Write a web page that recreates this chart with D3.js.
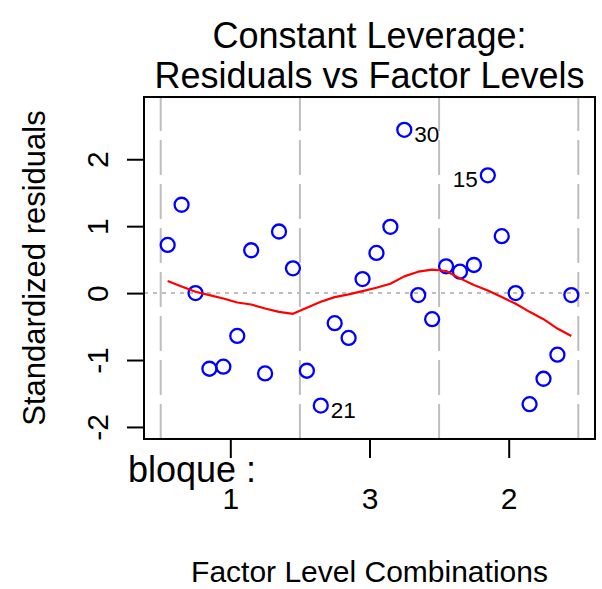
<!DOCTYPE html>
<html>
<head>
<meta charset="utf-8">
<script src="https://cdn.jsdelivr.net/npm/d3@7"></script>
<style>
  body { margin: 0; background: #fff; }
  svg { display: block; font-family: "Liberation Sans", Arial, sans-serif; }
</style>
</head>
<body>
<div class="chart"></div>
<script>
// values
var titleLines = ["Constant Leverage:", "Residuals vs Factor Levels"];
var factorName = "bloque";
var facLevels = ["1", "3", "2"];
var perLevel = 10;
var yTicks = [-2, -1, 0, 1, 2];

// standardized residuals, in factor-level order (facval 0..29)
var stdResid = [0.72, 1.32, 0.00, -1.13, -1.10, -0.64, 0.64, -1.20, 0.92, 0.37,
    -1.16, -1.68, -0.45, -0.67, 0.21, 0.60, 0.99, 2.44, -0.03, -0.39,
    0.40, 0.32, 0.42, 1.76, 0.85, 0.00, -1.66, -1.28, -0.92, -0.03];

// red smoother, same positions
var smoothFit = [0.18, 0.10, 0.02, -0.03, -0.08, -0.14, -0.17, -0.23, -0.28, -0.31,
    -0.22, -0.13, -0.06, -0.02, 0.03, 0.08, 0.14, 0.25, 0.32, 0.35,
    0.33, 0.22, 0.12, 0.04, -0.06, -0.16, -0.28, -0.39, -0.53, -0.64];

// labelled observations
var idLabels = ["30", "15", "21"];
var idIndex = [17, 23, 11];

var svg = d3.select(".chart").append("svg")
    .attr("width", 602)
    .attr("height", 589);

var nPts = facLevels.length * perLevel;
var x = d3.scaleLinear()
    .domain([-0.5 - 0.04 * nPts, nPts - 0.5 + 0.04 * nPts])
    .range([144, 595]);
var y = d3.scaleLinear()
    .domain([-2.18, 2.93])
    .range([439, 97]);

var boxL = x.range()[0], boxR = x.range()[1],
    boxT = y.range()[1], boxB = y.range()[0];

// level boundaries (gray long dashes, drawn bottom to top)
var bounds = d3.range(facLevels.length + 1).map(function(i) { return i * perLevel - 0.5; });
svg.append("g").selectAll("line")
    .data(bounds)
    .enter().append("line")
    .attr("x1", function(d) { return x(d); })
    .attr("x2", function(d) { return x(d); })
    .attr("y1", boxB)
    .attr("y2", boxT)
    .attr("stroke", "#bebebe")
    .attr("stroke-width", 2)
    .attr("stroke-dasharray", "35,9");

// zero line
svg.append("line")
    .attr("x1", boxL)
    .attr("x2", boxR)
    .attr("y1", y(0))
    .attr("y2", y(0))
    .attr("stroke", "#bebebe")
    .attr("stroke-width", 2)
    .attr("stroke-dasharray", "4,5");

// points
svg.append("g").selectAll("circle")
    .data(stdResid)
    .enter().append("circle")
    .attr("cx", function(d, i) { return x(i); })
    .attr("cy", function(d) { return y(d); })
    .attr("r", 7)
    .attr("fill", "none")
    .attr("stroke", "#0000ff")
    .attr("stroke-width", 2.3);

// smoother
var line = d3.line()
    .x(function(d, i) { return x(i); })
    .y(function(d) { return y(d); });

svg.append("path")
    .datum(smoothFit)
    .attr("fill", "none")
    .attr("stroke", "#ff0000")
    .attr("stroke-width", 2.2)
    .attr("stroke-linejoin", "round")
    .attr("d", line);

// id labels: right of the point unless noted
var leftSide = { "15": true };
svg.append("g").selectAll("text")
    .data(idLabels)
    .enter().append("text")
    .attr("x", function(d, i) { return x(idIndex[i]) + (leftSide[d] ? -10 : 10); })
    .attr("y", function(d, i) { return y(stdResid[idIndex[i]]) + 12; })
    .attr("text-anchor", function(d) { return leftSide[d] ? "end" : "start"; })
    .attr("font-size", 22.5)
    .text(function(d) { return d; });

// box
svg.append("rect")
    .attr("x", boxL)
    .attr("y", boxT)
    .attr("width", boxR - boxL)
    .attr("height", boxB - boxT)
    .attr("fill", "none")
    .attr("stroke", "#000")
    .attr("stroke-width", 2);

// y axis
var yAxis = svg.append("g")
    .attr("transform", "translate(" + boxL + ",0)")
    .call(d3.axisLeft(y).tickValues(yTicks).tickSize(17));
yAxis.select(".domain").remove();
yAxis.selectAll(".tick line").attr("stroke", "#000").attr("stroke-width", 2);
yAxis.selectAll(".tick text")
    .attr("transform", "rotate(-90)")
    .attr("x", 0)
    .attr("y", -36)
    .attr("dy", 0)
    .attr("text-anchor", "middle")
    .attr("font-size", 30)
    .attr("font-family", "Liberation Sans, Arial, sans-serif")
    .attr("fill", "#000")
    .text(function(d) { return d < 0 ? "-" + Math.abs(d) : d; });

// x axis
var centers = facLevels.map(function(d, i) { return i * perLevel + (perLevel - 1) / 2; });
var xAxis = svg.append("g")
    .attr("transform", "translate(0," + boxB + ")")
    .call(d3.axisBottom(x).tickValues(centers).tickSize(19)
        .tickFormat(function(d, i) { return facLevels[i]; }));
xAxis.select(".domain").remove();
xAxis.selectAll(".tick line").attr("stroke", "#000").attr("stroke-width", 2);
xAxis.selectAll(".tick text")
    .attr("y", 70)
    .attr("dy", 0)
    .attr("font-size", 30)
    .attr("font-family", "Liberation Sans, Arial, sans-serif")
    .attr("fill", "#000");

svg.append("text")
    .attr("x", 128)
    .attr("y", 482)
    .attr("font-size", 36)
    .text(factorName + " :");

svg.append("text")
    .attr("x", (boxL + boxR) / 2)
    .attr("y", 582)
    .attr("text-anchor", "middle")
    .attr("font-size", 30)
    .text("Factor Level Combinations");

svg.append("text")
    .attr("transform", "translate(45," + (boxT + boxB) / 2 + ") rotate(-90)")
    .attr("text-anchor", "middle")
    .attr("font-size", 31)
    .text("Standardized residuals");

// title
svg.append("g").selectAll("text")
    .data(titleLines)
    .enter().append("text")
    .attr("x", (boxL + boxR) / 2)
    .attr("y", function(d, i) { return 48 + i * 40; })
    .attr("text-anchor", "middle")
    .attr("font-size", 36)
    .text(function(d) { return d; });
</script>
</body>
</html>
